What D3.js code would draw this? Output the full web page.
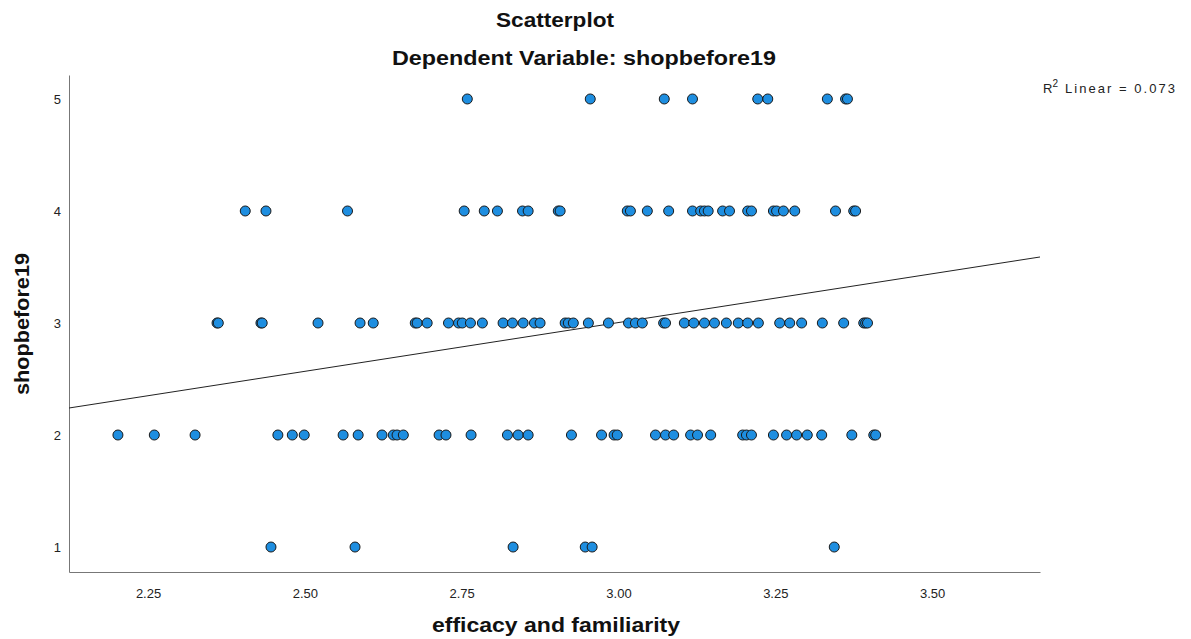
<!DOCTYPE html>
<html><head><meta charset="utf-8">
<script src="https://cdn.jsdelivr.net/npm/d3@7"></script>
<style>body{margin:0;background:#fff}svg{display:block}</style>
</head><body><svg id="c" width="1191" height="639"></svg>
<script>
const xTicks = [2.25, 2.50, 2.75, 3.00, 3.25, 3.50];
const yTicks = [1, 2, 3, 4, 5];
const row5 = [2.759, 2.955, 3.073, 3.118, 3.222, 3.238, 3.333, 3.362, 3.365];
const row4 = [2.405, 2.438, 2.568, 2.754, 2.786, 2.807, 2.847, 2.856, 2.904, 2.907, 3.014, 3.019, 3.046, 3.080, 3.118, 3.131, 3.137, 3.143, 3.166, 3.177, 3.206, 3.212, 3.247, 3.252, 3.263, 3.281, 3.346, 3.375, 3.378];
const row3 = [2.360, 2.362, 2.430, 2.432, 2.521, 2.588, 2.609, 2.676, 2.679, 2.695, 2.729, 2.745, 2.751, 2.764, 2.783, 2.816, 2.831, 2.848, 2.866, 2.875, 2.915, 2.920, 2.928, 2.952, 2.984, 3.016, 3.027, 3.038, 3.072, 3.075, 3.105, 3.120, 3.137, 3.153, 3.172, 3.191, 3.206, 3.223, 3.257, 3.273, 3.292, 3.325, 3.359, 3.391, 3.394, 3.397];
const row2 = [2.202, 2.260, 2.325, 2.457, 2.480, 2.499, 2.561, 2.585, 2.623, 2.641, 2.647, 2.657, 2.714, 2.725, 2.765, 2.823, 2.840, 2.856, 2.925, 2.973, 2.993, 2.998, 3.059, 3.075, 3.088, 3.115, 3.126, 3.147, 3.198, 3.204, 3.212, 3.247, 3.268, 3.284, 3.301, 3.324, 3.372, 3.407, 3.410];
const row1 = [2.446, 2.580, 2.832, 2.947, 2.958, 3.344];
const rows = [[1, row1], [2, row2], [3, row3], [4, row4], [5, row5]];
const fitIntercept = 0.391, fitSlope = 0.871;
const xDomain = [2.124, 3.672], yDomain = [0.777, 5.214];

const svg = d3.select("#c");
const L = 69, R = 1040, T = 75, B = 572;
const x = d3.scaleLinear().domain(xDomain).range([L, R]);
const y = d3.scaleLinear().domain(yDomain).range([B, T]);
const font = "'Liberation Sans', Arial, sans-serif";

const pts = [];
rows.forEach(([yv, xs]) => xs.forEach(xv => pts.push({x: xv, y: yv})));

// axes
svg.append("g").attr("transform", `translate(0,${B})`)
  .call(d3.axisBottom(x).tickValues(xTicks).tickFormat(d3.format(".2f")).tickSize(0).tickPadding(17))
  .call(g => g.select(".domain").attr("stroke", "#777"))
  .call(g => g.selectAll("text").attr("font-family", font).attr("font-size", 13).attr("fill", "#222"));
svg.append("g").attr("transform", `translate(${L},0)`)
  .call(d3.axisLeft(y).tickValues(yTicks).tickFormat(d3.format("d")).tickSize(0).tickPadding(8))
  .call(g => g.select(".domain").attr("stroke", "#777"))
  .call(g => g.selectAll("text").attr("font-family", font).attr("font-size", 13).attr("fill", "#222"));

// fit line
svg.append("line")
  .attr("x1", x(xDomain[0])).attr("y1", y(fitIntercept + fitSlope * xDomain[0]))
  .attr("x2", x(xDomain[1])).attr("y2", y(fitIntercept + fitSlope * xDomain[1]))
  .attr("stroke", "#222").attr("stroke-width", 1);

// points
svg.append("g").selectAll("circle").data(pts).join("circle")
  .attr("cx", d => x(d.x)).attr("cy", d => y(d.y)).attr("r", 5)
  .attr("fill", "#1e8ee0").attr("stroke", "#1a1a1a").attr("stroke-width", 1);

// titles
function title(tx, ty, size, len, str, rot) {
  const t = svg.append("text").attr("text-anchor", "middle")
    .attr("font-family", font).attr("font-weight", "bold").attr("font-size", size).attr("fill", "#111")
    .attr("textLength", len).attr("lengthAdjust", "spacingAndGlyphs").text(str);
  if (rot) t.attr("transform", `translate(${tx},${ty}) rotate(-90)`);
  else t.attr("x", tx).attr("y", ty);
}
title(555, 27, 20, 118, "Scatterplot");
title(584, 65, 20, 384, "Dependent Variable: shopbefore19");
title(556, 632, 21, 248, "efficacy and familiarity");
title(29, 324, 21, 142, "shopbefore19", true);

const r2 = svg.append("text").attr("x", 1043).attr("y", 93)
  .attr("font-family", font).attr("font-size", 13).attr("fill", "#222");
r2.append("tspan").text("R");
r2.append("tspan").attr("dy", -6).attr("font-size", 10).text("2");
r2.append("tspan").attr("dy", 6).attr("x", 1065).attr("textLength", 110).attr("lengthAdjust", "spacing").text("Linear = 0.073");
</script></body></html>
